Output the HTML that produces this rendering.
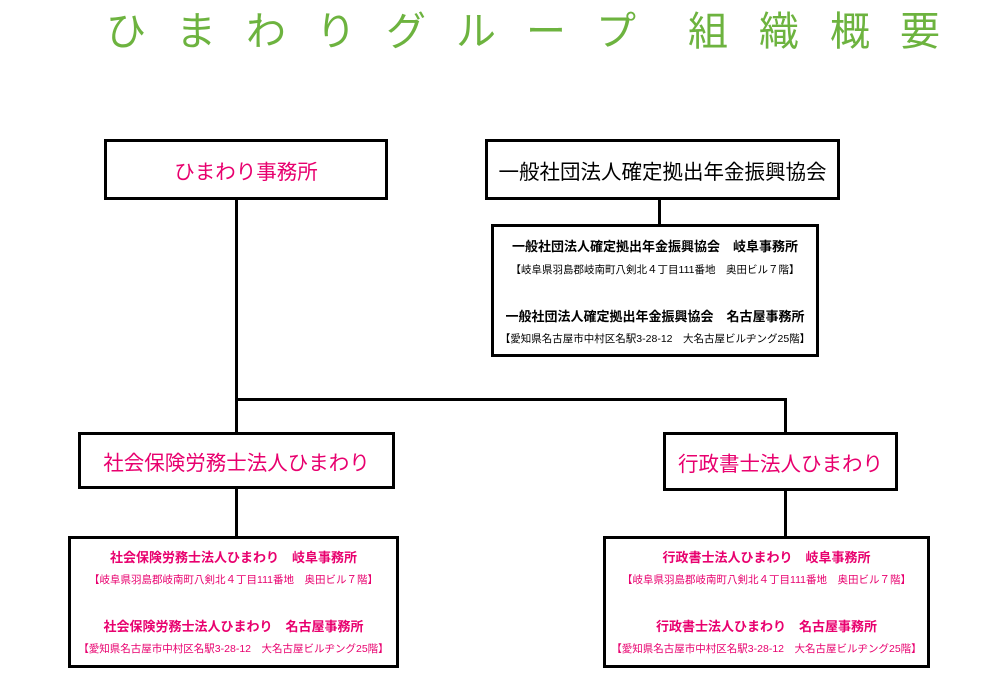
<!DOCTYPE html>
<html><head><meta charset="utf-8"><style>
body{margin:0;width:1000px;height:679px;background:#fff;position:relative;overflow:hidden;font-family:"Liberation Sans","Noto Sans CJK JP",sans-serif}
.t{position:absolute;top:4px;font-size:40px;color:#6db33f;line-height:56px}
.b{position:absolute;border:3px solid #000;box-sizing:border-box;display:flex;align-items:center;justify-content:center;font-size:20.5px;white-space:nowrap}
.p{color:#e8006e}
.l{position:absolute;background:#000}
.s{position:absolute;border:3px solid #000;box-sizing:border-box;text-align:center;white-space:nowrap}
.s .h{position:absolute;left:0;right:0;font-size:13px;font-weight:bold}
.s .a{position:absolute;left:0;right:0;font-size:10.5px}
</style></head><body>
<div class="t" style="left:106px">ひ</div>
<div class="t" style="left:176px">ま</div>
<div class="t" style="left:246px">わ</div>
<div class="t" style="left:316px">り</div>
<div class="t" style="left:386px">グ</div>
<div class="t" style="left:456px">ル</div>
<div class="t" style="left:526px">ー</div>
<div class="t" style="left:596px">プ</div>
<div class="t" style="left:688px">組</div>
<div class="t" style="left:759px">織</div>
<div class="t" style="left:830px">概</div>
<div class="t" style="left:900px">要</div>

<div class="b p" style="left:104px;top:139px;width:284px;height:61px">ひまわり事務所</div>
<div class="b" style="left:485px;top:139px;width:355px;height:61px">一般社団法人確定拠出年金振興協会</div>
<div class="l" style="left:658px;top:199px;width:3px;height:26px"></div>
<div class="s" style="left:491px;top:224px;width:328px;height:133px">
 <div class="h" style="top:9px">一般社団法人確定拠出年金振興協会　岐阜事務所</div>
 <div class="a" style="top:35px">【岐阜県羽島郡岐南町八剣北４丁目111番地　奥田ビル７階】</div>
 <div class="h" style="top:79px">一般社団法人確定拠出年金振興協会　名古屋事務所</div>
 <div class="a" style="top:104px">【愛知県名古屋市中村区名駅3-28-12　大名古屋ビルヂング25階】</div>
</div>

<div class="l" style="left:235px;top:199px;width:3px;height:234px"></div>
<div class="l" style="left:235px;top:398px;width:551px;height:3px"></div>
<div class="l" style="left:784px;top:398px;width:3px;height:35px"></div>

<div class="b p" style="left:78px;top:432px;width:317px;height:57px">社会保険労務士法人ひまわり</div>
<div class="b p" style="left:663px;top:432px;width:235px;height:59px">行政書士法人ひまわり</div>
<div class="l" style="left:235px;top:488px;width:3px;height:49px"></div>
<div class="l" style="left:784px;top:490px;width:3px;height:47px"></div>

<div class="s p" style="left:68px;top:536px;width:331px;height:132px">
 <div class="h" style="top:8px">社会保険労務士法人ひまわり　岐阜事務所</div>
 <div class="a" style="top:33px">【岐阜県羽島郡岐南町八剣北４丁目111番地　奥田ビル７階】</div>
 <div class="h" style="top:77px">社会保険労務士法人ひまわり　名古屋事務所</div>
 <div class="a" style="top:102px">【愛知県名古屋市中村区名駅3-28-12　大名古屋ビルヂング25階】</div>
</div>
<div class="s p" style="left:603px;top:536px;width:327px;height:132px">
 <div class="h" style="top:8px">行政書士法人ひまわり　岐阜事務所</div>
 <div class="a" style="top:33px">【岐阜県羽島郡岐南町八剣北４丁目111番地　奥田ビル７階】</div>
 <div class="h" style="top:77px">行政書士法人ひまわり　名古屋事務所</div>
 <div class="a" style="top:102px">【愛知県名古屋市中村区名駅3-28-12　大名古屋ビルヂング25階】</div>
</div>
</body></html>
